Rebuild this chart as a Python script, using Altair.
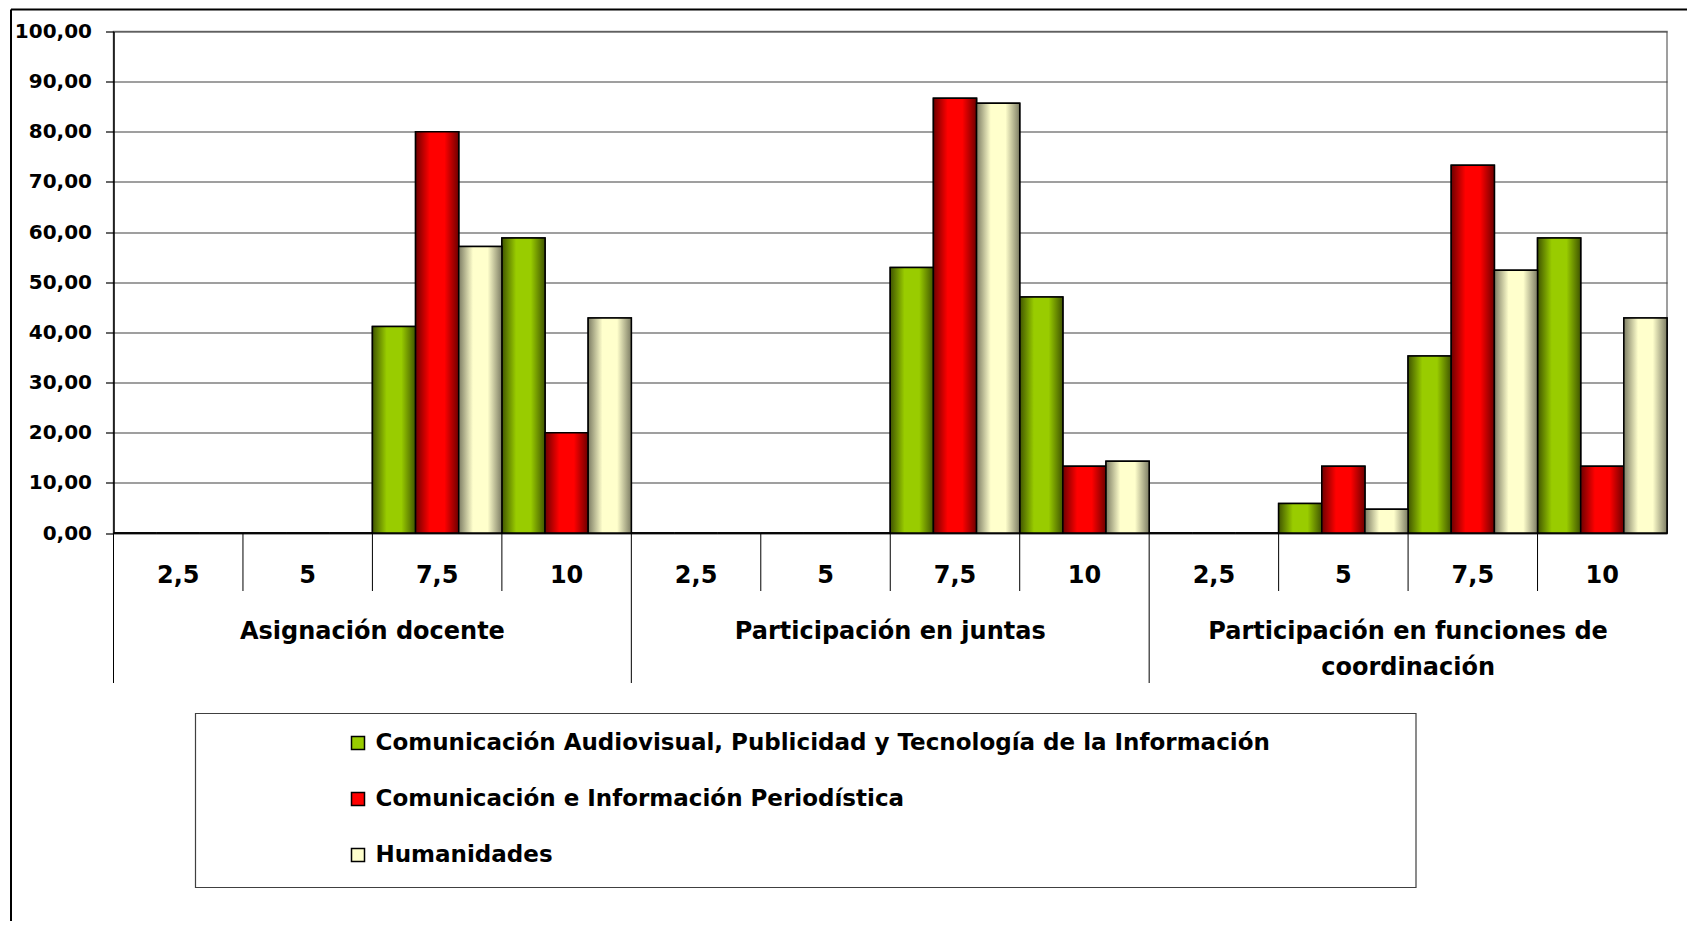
import altair as alt
import pandas as pd

groups = ["Asignación docente", "Participación en juntas",
          "Participación en funciones de coordinación"]
group_labels = ["Asignación docente", "Participación en juntas",
                "Participación en funciones de\ncoordinación"]
subs = ["2,5", "5", "7,5", "10"]
series = ["Comunicación Audiovisual, Publicidad y Tecnología de la Información",
          "Comunicación e Información Periodística",
          "Humanidades"]
green_vals = [0, 0, 41.18, 58.82, 0, 0, 52.94, 47.06, 0, 5.88, 35.29, 58.82]
red_vals = [0, 0, 80.00, 20.00, 0, 0, 86.67, 13.33, 0, 13.33, 73.33, 13.33]
cream_vals = [0, 0, 57.14, 42.86, 0, 0, 85.71, 14.29, 0, 4.76, 52.38, 42.86]
y_ticks = [0, 10, 20, 30, 40, 50, 60, 70, 80, 90, 100]

flat_colors = ["#99cc00", "#ff0000", "#ffffcc"]
edge_colors = ["#405500", "#6e0000", "#7d7d64"]

FONT = "DejaVu Sans"
W, H = 1553.5, 501.5

keys = [f"{g}|{s}" for g in groups for s in subs]
frames = []
for name, vals in zip(series, [green_vals, red_vals, cream_vals]):
    frames.append(pd.DataFrame({"key": keys, "series": [name] * len(keys),
                                "value": vals}))
df = pd.concat(frames, ignore_index=True)

xscale = alt.Scale(domain=keys, paddingInner=0, paddingOuter=0)
offscale = alt.Scale(domain=series, paddingInner=0, paddingOuter=0)
yscale = alt.Scale(domain=[0, 100], nice=False)

yaxis = alt.Axis(values=y_ticks, tickSize=8, labelPadding=14, grid=True,
                 gridColor="#404040", gridWidth=1.2, domainColor="black",
                 domainWidth=1.5, tickColor="black", tickWidth=1.2,
                 labelFont=FONT, labelFontSize=20, labelFontWeight="bold",
                 labelColor="black",
                 labelExpr="replace(format(datum.value, '.2f'), '.', ',')")

X = alt.X("key:N", scale=xscale, axis=None, sort=keys)
XO = alt.XOffset("series:N", scale=offscale, sort=series)
Y = alt.Y("value:Q", scale=yscale, axis=yaxis, title=None)

base = alt.Chart(df).mark_bar(stroke="black", strokeWidth=1.5).encode(
    x=X, xOffset=XO, y=Y,
    color=alt.Color("series:N", sort=series,
                    scale=alt.Scale(domain=series, range=flat_colors),
                    legend=alt.Legend(orient="none", legendX=233, legendY=700,
                                      direction="vertical", title=None,
                                      symbolType="square", symbolSize=169,
                                      symbolStrokeColor="black",
                                      symbolStrokeWidth=1.5,
                                      labelFont=FONT, labelFontSize=23,
                                      labelFontWeight="bold", labelColor="black",
                                      labelOffset=6, rowPadding=32,
                                      labelLimit=1400, padding=0)),
)

grad_layers = []
for frame, c_flat, c_edge in zip(frames, flat_colors, edge_colors):
    grad = alt.Gradient(
        gradient="linear", x1=0, x2=1, y1=0, y2=0,
        stops=[alt.GradientStop(color=c_edge, offset=0),
               alt.GradientStop(color=c_flat, offset=0.33),
               alt.GradientStop(color=c_flat, offset=0.67),
               alt.GradientStop(color=c_edge, offset=1)])
    grad_layers.append(
        alt.Chart(frame)
        .mark_bar(color=grad, stroke="black", strokeWidth=1.5)
        .encode(x=X, xOffset=XO, y=Y)
    )

sub_div = pd.DataFrame({"key": [f"{g}|{s}" for g in groups for s in subs[1:]]})
grp_div = pd.DataFrame({"key": [f"{g}|{subs[0]}" for g in groups]})
Xb = alt.X("key:N", scale=xscale, axis=None, sort=keys, bandPosition=0)

rule_sub = alt.Chart(sub_div).mark_rule(color="black", strokeWidth=1).encode(
    x=Xb, y=alt.value(H), y2=alt.value(H + 58))
rule_grp = alt.Chart(grp_div).mark_rule(color="black", strokeWidth=1).encode(
    x=Xb, y=alt.value(H), y2=alt.value(H + 150))

sub_lab = pd.DataFrame({"key": keys, "label": [k.split("|")[1] for k in keys]})
txt_sub = alt.Chart(sub_lab).mark_text(
    font=FONT, fontSize=24, fontWeight="bold", color="black",
    baseline="alphabetic", align="center").encode(
    x=alt.X("key:N", scale=xscale, axis=None, sort=keys),
    y=alt.value(551), text="label:N")

grp_lab = pd.DataFrame({"key": [f"{g}|{subs[1]}" for g in groups],
                        "label": group_labels})
txt_grp = alt.Chart(grp_lab).mark_text(
    font=FONT, fontSize=24, fontWeight="bold", color="black",
    baseline="alphabetic", align="center", lineBreak="\n", lineHeight=36).encode(
    x=alt.X("key:N", scale=xscale, axis=None, sort=keys, bandPosition=1),
    y=alt.value(607), text="label:N")

one = pd.DataFrame({"k": [0]})
legend_box = alt.Chart(one).mark_rect(fill="white", stroke="#404040",
                                      strokeWidth=1.2).encode(
    x=alt.value(82), x2=alt.value(1302.5), y=alt.value(682), y2=alt.value(856))
border_top = alt.Chart(one).mark_rule(color="black", strokeWidth=2).encode(
    x=alt.value(-102.5), x2=alt.value(W + 20), y=alt.value(-22))
border_left = alt.Chart(one).mark_rule(color="black", strokeWidth=2).encode(
    x=alt.value(-102.5), y=alt.value(-22), y2=alt.value(H + 400))

chart = alt.layer(
    border_top, border_left, legend_box, base, *grad_layers,
    rule_sub, rule_grp, txt_sub, txt_grp
).properties(
    width=W, height=H,
    autosize=alt.AutoSizeParams(type="none"),
    padding={"left": 105.5, "top": 23.5, "right": 20, "bottom": 388},
    background="white",
).configure_view(stroke="#808080", strokeWidth=1.5)

chart.save("out.html", embed_options={"renderer": "svg", "actions": False})
